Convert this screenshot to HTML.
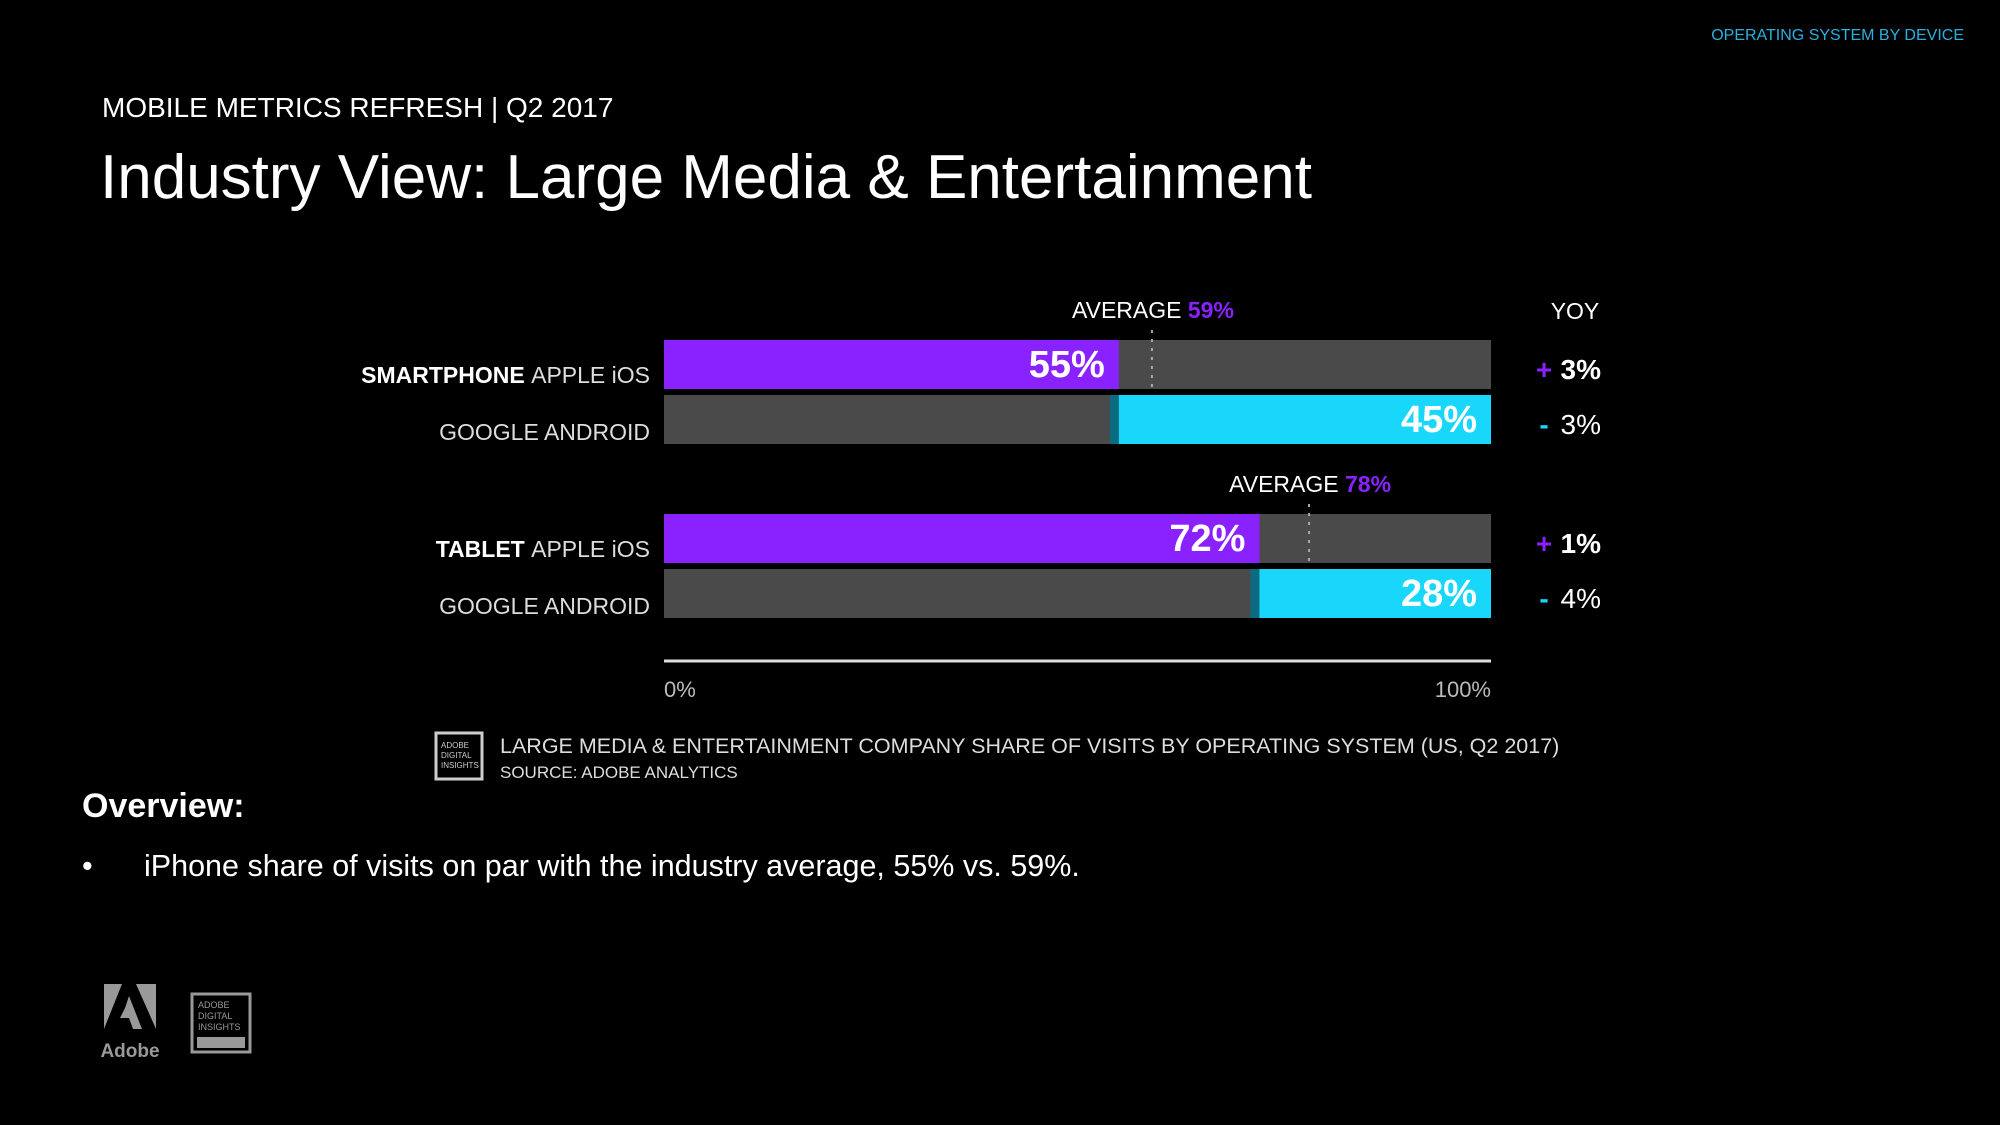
<!DOCTYPE html>
<html><head><meta charset="utf-8"><style>
body{margin:0;background:#000;width:2000px;height:1125px;overflow:hidden;font-family:"Liberation Sans",sans-serif;color:#fff;position:relative}
.a{position:absolute;white-space:nowrap}
</style></head><body>
<div class="a" style="right:36px;top:27px;font-size:16px;color:#2ab0e0">OPERATING SYSTEM BY DEVICE</div>
<div class="a" style="left:102px;top:92px;font-size:28px">MOBILE METRICS REFRESH | Q2 2017</div>
<div class="a" style="left:100px;top:142px;font-size:62px">Industry View: Large Media &amp; Entertainment</div>
<svg class="a" style="left:0;top:0" width="2000" height="1125" id="chart"></svg>
<div class="a" style="left:82px;top:787px;font-size:34px;font-weight:bold">Overview:</div>
<div class="a" style="left:82px;top:849px;font-size:30.5px">•<span style="position:absolute;left:62px">iPhone share of visits on par with the industry average, 55% vs. 59%.</span></div>
<svg class="a" style="left:100px;top:984px" width="160" height="80">
<polygon points="4,0 22,0 4,45" fill="#999"/><polygon points="36,0 56,0 56,45" fill="#999"/><polygon points="29,12 42,45 33,45 29,34 20,34 25,24" fill="#999"/>
<text x="30" y="73" font-size="19" font-weight="bold" fill="#999" text-anchor="middle" font-family="Liberation Sans">Adobe</text>
<rect x="92" y="10" width="58" height="58" fill="none" stroke="#999" stroke-width="3"/>
<text x="98" y="24" font-size="9" fill="#999" font-family="Liberation Sans">ADOBE</text><text x="98" y="35" font-size="9" fill="#999">DIGITAL</text><text x="98" y="46" font-size="9" fill="#999">INSIGHTS</text>
<rect x="97" y="53" width="48" height="11" fill="#999"/>
</svg>
<script>
const rows=["SMARTPHONE|APPLE iOS","|GOOGLE ANDROID","TABLET|APPLE iOS","|GOOGLE ANDROID"];
const values=[55,45,72,28];
const yoy=["+|3%","-|3%","+|1%","-|4%"];
const averages=[59,78];
const ticks=[0,100];
const svg=document.getElementById('chart');
const NS='http://www.w3.org/2000/svg';
const x0=664,x1=1491;
const X=v=>x0+(x1-x0)*v/100;
const rowY=[340,395,514,569],bh=49;
function el(t,a,txt){const e=document.createElementNS(NS,t);for(const k in a)e.setAttribute(k,a[k]);if(txt!=null)e.textContent=txt;svg.appendChild(e);return e;}
rows.forEach((r,i)=>{
 const y=rowY[i],v=values[i],ios=i%2==0;
 const bg=el('rect',{x:x0,y:y,width:x1-x0,height:bh,fill:'#4a4a4a'});
 
 let b;
 if(ios){b=el('rect',{x:x0,y:y,width:X(v)-x0,height:bh,fill:'#8a22ff'});}
 else{el('rect',{x:X(100-v)-9,y:y,width:9,height:bh,fill:'#0c6b80'});b=el('rect',{x:X(100-v),y:y,width:X(100)-X(100-v),height:bh,fill:'#18d7fb'});}
 
 
 const lx=ios?X(v)-14:x1-14;
 el('text',{x:lx,y:y+37,'font-size':38,'font-weight':'bold','text-anchor':'end',fill:'#fff'},v+'%');
 const [b1,b2]=r.split('|');
 const t=el('text',{x:650,y:y+(ios?43:45),'font-size':23,'text-anchor':'end',fill:'#ddd'});
 if(b1){const s=document.createElementNS(NS,'tspan');s.setAttribute('font-weight','bold');s.setAttribute('fill','#fff');s.textContent=b1+' ';t.appendChild(s);}
 const s2=document.createElementNS(NS,'tspan');s2.textContent=b2;t.appendChild(s2);
 
 const [sg,val]=yoy[i].split('|');
 el('text',{x:1544,y:y+39,'font-size':28,'font-weight':'bold','text-anchor':'middle',fill:sg=='+'?'#8a22ff':'#18d7fb'},sg=='+'?'+':'-');
 el('text',{x:1601,y:y+39,'font-size':28,'font-weight':sg=='+'?'bold':'normal','text-anchor':'end',fill:'#fff'},val);
});
averages.forEach((a,i)=>{
 const y=i==0?rowY[0]:rowY[2];
 const ln=el('line',{x1:X(a),x2:X(a),y1:y-10,y2:y+bh,stroke:'#aaa','stroke-width':2,'stroke-dasharray':'3,6'});
 
 const t=el('text',{x:X(a)+82,y:y-22,'font-size':23,'text-anchor':'end',fill:'#fff'},'AVERAGE ');
 const s=document.createElementNS(NS,'tspan');s.setAttribute('fill','#8a22ff');s.setAttribute('font-weight','bold');s.textContent=a+'%';t.appendChild(s);
});
el('text',{x:1575,y:319,'font-size':23,'text-anchor':'middle',fill:'#fff'},'YOY');
el('line',{x1:x0,x2:x1,y1:661,y2:661,stroke:'#ddd','stroke-width':3});
ticks.forEach(t=>el('text',{x:X(t),y:697,'font-size':22,'text-anchor':t==0?'start':'end',fill:'#bbb'},t+'%'));
el('rect',{x:436,y:733,width:46,height:46,fill:'none',stroke:'#ccc','stroke-width':3});
el('text',{x:441,y:748,'font-size':8,fill:'#ccc'},'ADOBE');el('text',{x:441,y:758,'font-size':8,fill:'#ccc'},'DIGITAL');el('text',{x:441,y:768,'font-size':8,fill:'#ccc'},'INSIGHTS');
el('text',{x:500,y:753,'font-size':21.5,fill:'#ddd'},'LARGE MEDIA & ENTERTAINMENT COMPANY SHARE OF VISITS BY OPERATING SYSTEM (US, Q2 2017)');
el('text',{x:500,y:778,'font-size':17,fill:'#ddd'},'SOURCE: ADOBE ANALYTICS');
</script>
</body></html>
